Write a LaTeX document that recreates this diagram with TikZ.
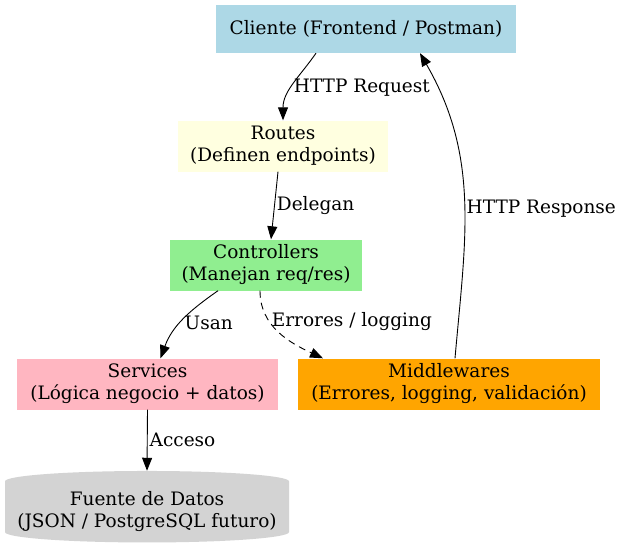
\documentclass[tikz,border=0pt]{standalone}
\usepackage{tikz}
\usepackage{fontspec}
\setmainfont{DejaVu Serif}
\usetikzlibrary{shapes.geometric, arrows.meta}

\definecolor{clientblue}{HTML}{ADD8E6}
\definecolor{routeyellow}{HTML}{FFFFE0}
\definecolor{ctrlgreen}{HTML}{90EE90}
\definecolor{servpink}{HTML}{FFB6C1}
\definecolor{midorange}{HTML}{FFA500}
\definecolor{datagrey}{HTML}{D3D3D3}

\tikzset{
  layer/.style={rectangle, align=center, inner sep=0pt, minimum height=51pt},
  flow/.style={-{Triangle[length=13pt,width=10pt]}, line width=0.9pt},
  lbl/.style={inner sep=2pt, anchor=west}
}

\begin{document}
\begin{tikzpicture}[x=1pt,y=-1pt,font=\fontsize{18.5}{22}\selectfont]
	  \useasboundingbox (0,0) rectangle (621,552);

	  \node[layer, fill=clientblue, minimum width=300pt, minimum height=48pt] (cli) at (366,29) {Cliente (Frontend / Postman)};
	  \node[layer, fill=routeyellow, minimum width=210pt] (rts) at (283,146) {Routes\\(Definen endpoints)};
	  \node[layer, fill=ctrlgreen, minimum width=192pt] (ctl) at (266,265) {Controllers\\(Manejan req/res)};
	  \node[layer, fill=servpink, minimum width=261pt] (srv) at (147.5,384) {Services\\(Lógica negocio + datos)};
	  \node[layer, fill=midorange, minimum width=302pt] (mid) at (449,384) {Middlewares\\(Errores, logging, validación)};
	  \node[cylinder, shape border rotate=90, aspect=0.08, fill=datagrey, align=center, inner sep=0pt,
	        minimum width=284pt, minimum height=71pt] (dat) at (147,512) {Fuente de Datos\\(JSON / PostgreSQL futuro)};

	  \draw[flow] ([xshift=-50pt]cli.south) to[out=235, in=90]
	     node[lbl, pos=0.55] {HTTP Request} (rts.north);
	  \draw[flow] ([xshift=-5pt]rts.south) -- ([xshift=5pt]ctl.north)
	     node[lbl, pos=0.5] {Delegan};
	  \draw[flow] ([xshift=-48pt]ctl.south) to[out=215, in=70]
	     node[lbl, pos=0.55, xshift=2pt] {Usan} ([xshift=13pt]srv.north);
	  \draw[flow, dashed, dash pattern=on 7pt off 5pt] ([xshift=-6pt]ctl.south) to[out=270, in=155]
	     node[lbl, pos=0.34, xshift=0pt] {Errores / logging} ([xshift=-126pt]mid.north);
	  \draw[flow] (srv.south) -- (dat.north)
	     node[lbl, pos=0.5] {Acceso};
	  \draw[flow] ([xshift=6pt]mid.north) to[out=85, in=300]
	     node[lbl, pos=0.47] {HTTP Response} ([xshift=54pt]cli.south);
\end{tikzpicture}
\end{document}
